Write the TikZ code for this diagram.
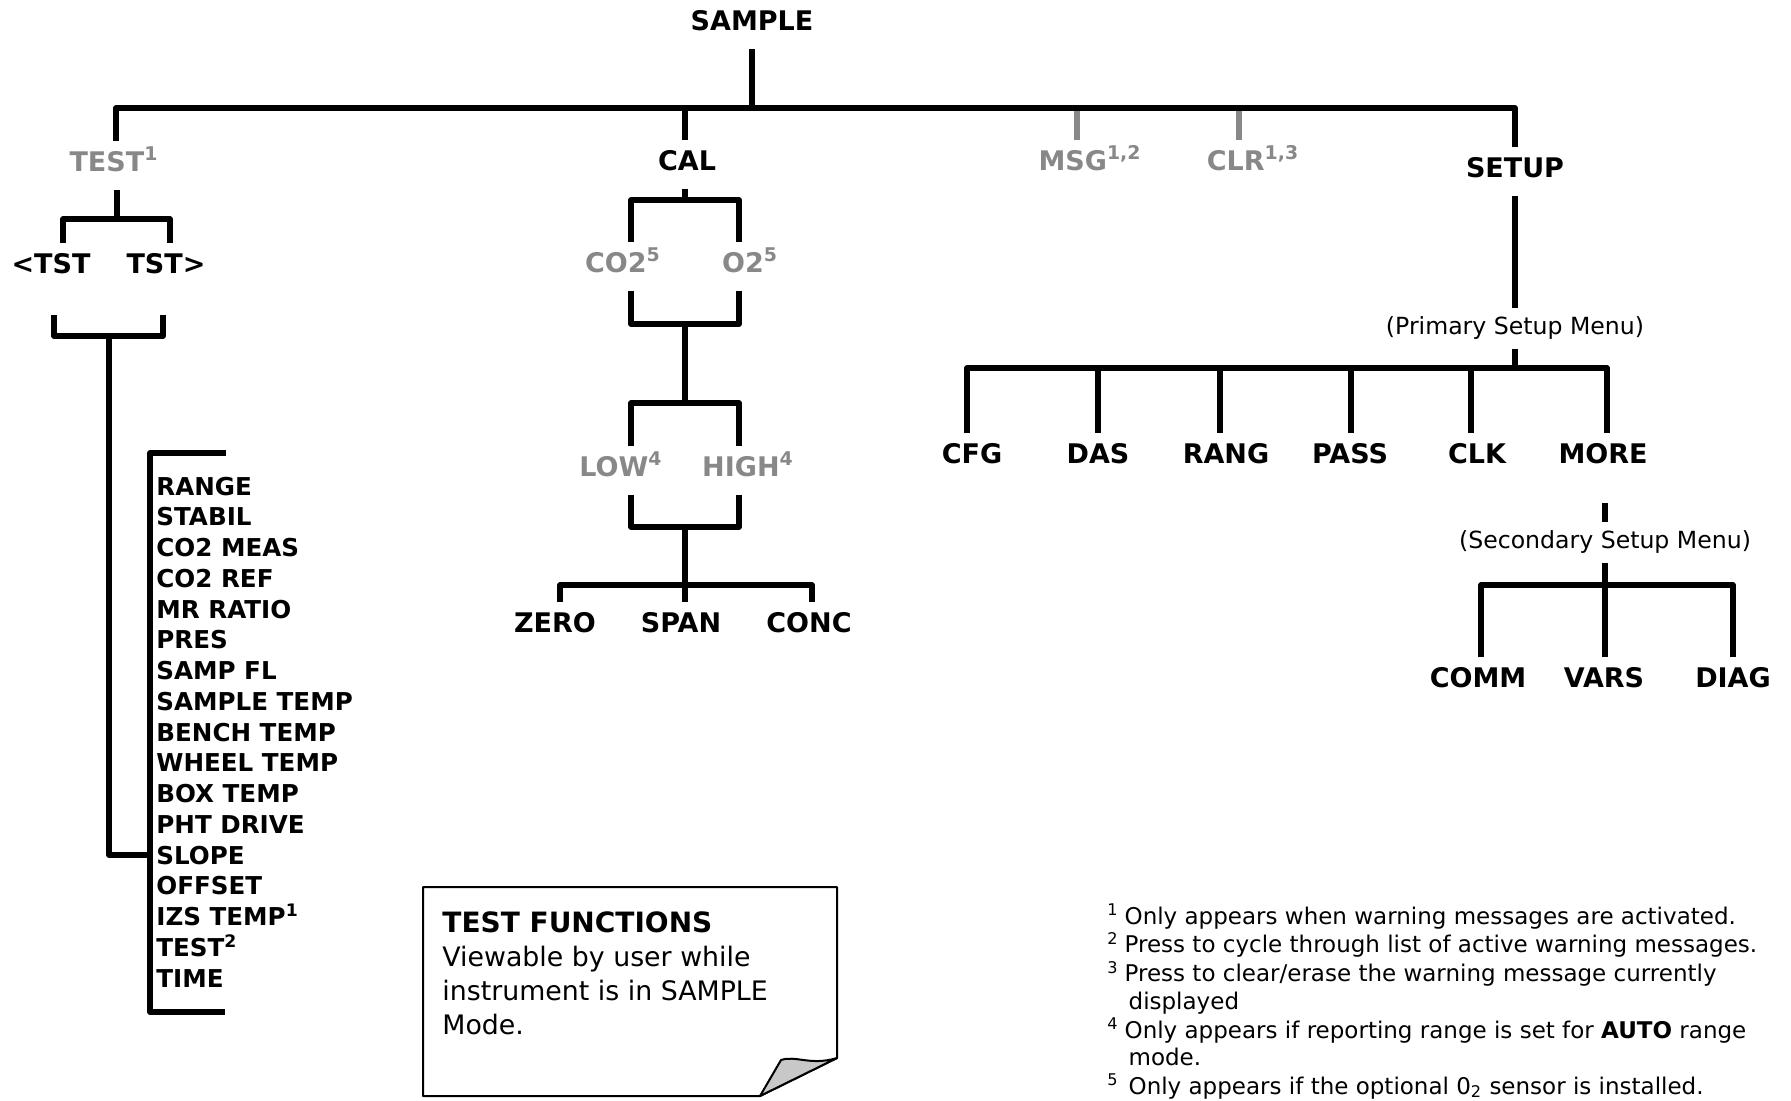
\documentclass[tikz,border=0pt]{standalone}
\usepackage{fontspec}
\setmainfont{DejaVu Sans}
\usepackage{tikz}
\usepackage{xcolor}

\definecolor{optgray}{RGB}{136,136,136}
\definecolor{curlgray}{RGB}{200,200,200}
\newcommand{\lblfont}{\fontsize{13.5}{16}\selectfont\bfseries}
\newcommand{\tfitemfont}{\fontsize{12.3}{15}\selectfont\bfseries}
\newcommand{\menufont}{\fontsize{11.8}{14}\selectfont}
\newcommand{\notesfont}{\fontsize{11.5}{13.75}\selectfont}

\begin{document}
\begin{tikzpicture}[
  x=0.5pt, y=-0.5pt,
  tree/.style={line width=2.6pt, line join=round},
  optline/.style={tree, draw=optgray},
  lbl/.style={font=\lblfont, inner sep=0pt, outer ysep=5pt, text height=9.8pt, text depth=4.5pt, anchor=base},
  opt/.style={lbl, text=optgray},
  menu/.style={font=\menufont, inner sep=0pt, outer ysep=5pt, text height=8pt, text depth=2.5pt, anchor=base},
  tfitem/.style={font=\tfitemfont, inner sep=0pt, anchor=base west},
  note/.style={line width=1pt, line join=round},
  notetext/.style={font=\fontsize{13.4}{17}\selectfont, inner sep=0pt, anchor=north west, align=left},
  foot/.style={font=\notesfont, inner sep=0pt, anchor=base west}
]
  \useasboundingbox (0,0) rectangle (1791,1100);

  % top level
  \node[lbl] (sample) at (752,30) {SAMPLE};
  \node[opt] (test) at (114,171) {TEST\textsuperscript{1}};
  \node[lbl] (cal) at (687,170) {CAL};
  \node[opt] (msg) at (1090,170) {MSG\textsuperscript{1,2}};
  \node[opt] (clr) at (1253,170) {CLR\textsuperscript{1,3}};
  \node[lbl] (setup) at (1515,177) {SETUP};
  \coordinate (j-root) at (752,108);
  \coordinate (j-test) at (116,108);
  \coordinate (j-cal) at (685,108);
  \coordinate (j-msg) at (1077,108);
  \coordinate (j-clr) at (1239,108);
  \coordinate (j-setup) at (1515,108);
  \draw[optline] (j-msg) -- (j-msg |- msg.north);
  \draw[optline] (j-clr) -- (j-clr |- clr.north);
  \draw[tree] (sample) -- (j-root);
  \draw[tree] (j-test |- test.north) -- (j-test) -- (j-setup) -- (setup.north);
  \draw[tree] (j-cal) -- (j-cal |- cal.north);

  % TEST branch
  \node[lbl] (tstl) at (51,273) {<TST};
  \node[lbl] (tstr) at (166,273) {TST>};
  \coordinate (t-fork) at (117,219);
  \coordinate (t-l) at (63,219);
  \coordinate (t-r) at (170,219);
  \draw[tree] (t-fork |- test.south) -- (t-fork);
  \draw[tree] (t-l |- tstl.north) -- (t-l) -- (t-r) -- (t-r |- tstr.north);
  \coordinate (tb-l) at (54,336);
  \coordinate (tb-r) at (163,336);
  \coordinate (tb-mid) at (109,336);
  \coordinate (t-slope) at (109,855);
  \coordinate (lb-top) at (150,453);
  \coordinate (lb-bot) at (150,1012);
  \draw[tree] (tb-l) ++(0,-21) -- (tb-l) -- (tb-r) -- ++(0,-21);
  \draw[tree] (tb-mid) -- (t-slope) -- (t-slope -| lb-top);
  \draw[tree] (lb-top) ++(76,0) -- (lb-top) -- (lb-bot) -- ++(75,0);
  \foreach \t [count=\i from 0] in {RANGE, STABIL, CO2 MEAS, CO2 REF, MR RATIO, PRES, SAMP FL,
      SAMPLE TEMP, BENCH TEMP, WHEEL TEMP, BOX TEMP, PHT DRIVE, SLOPE, OFFSET,
      {IZS TEMP\textsuperscript{1}}, {TEST\textsuperscript{2}}, TIME}
    \node[tfitem] (tf\i) at (156,495+30.75*\i) {\t};

  % CAL branch
  \node[opt] (co2) at (623,272) {CO2\textsuperscript{5}};
  \node[opt] (o2) at (750,272) {O2\textsuperscript{5}};
  \node[opt] (low) at (621,476) {LOW\textsuperscript{4}};
  \node[opt] (high) at (748,476) {HIGH\textsuperscript{4}};
  \node[lbl] (zero) at (555,632) {ZERO};
  \node[lbl] (span) at (681,632) {SPAN};
  \node[lbl] (conc) at (809,632) {CONC};
  \coordinate (c-a) at (685,200);
  \coordinate (c-al) at (631,200);
  \coordinate (c-ar) at (739,200);
  \coordinate (c-b) at (685,324);
  \coordinate (c-bl) at (631,324);
  \coordinate (c-br) at (739,324);
  \coordinate (c-c) at (685,403);
  \coordinate (c-cl) at (631,403);
  \coordinate (c-cr) at (739,403);
  \coordinate (c-d) at (685,527);
  \coordinate (c-dl) at (631,527);
  \coordinate (c-dr) at (739,527);
  \coordinate (c-e) at (685,585);
  \coordinate (c-el) at (560,585);
  \coordinate (c-er) at (812,585);
  \draw[tree] (c-a |- cal.south) -- (c-a);
  \draw[tree] (c-al |- co2.north) -- (c-al) -- (c-ar) -- (c-ar |- o2.north);
  \draw[tree] (c-bl |- co2.south) -- (c-bl) -- (c-br) -- (c-br |- o2.south);
  \draw[tree] (c-b) -- (c-c);
  \draw[tree] (c-cl |- low.north) -- (c-cl) -- (c-cr) -- (c-cr |- high.north);
  \draw[tree] (c-dl |- low.south) -- (c-dl) -- (c-dr) -- (c-dr |- high.south);
  \draw[tree] (c-d) -- (c-e);
  \draw[tree] (c-el |- zero.north) -- (c-el) -- (c-er) -- (c-er |- conc.north);
  \draw[tree] (c-e) -- (c-e |- span.north);

  % SETUP branch
  \node[menu] (primary) at (1515,334) {(Primary Setup Menu)};
  \coordinate (s-bar) at (1515,368);
  \draw[tree] (setup) -- (primary);
  \draw[tree] (primary) -- (s-bar);
  \foreach \n/\lx/\dx/\t in {cfg/972/967/CFG, das/1098/1098/DAS, rang/1226/1220/RANG,
      pass/1350/1351/PASS, clk/1477/1471/CLK, more/1603/1607/MORE} {
    \node[lbl] (\n) at (\lx,463) {\t};
    \coordinate (d-\n) at (\dx,368);
    \draw[tree] (d-\n) -- (d-\n |- \n.north);
  }
  \draw[tree] (d-cfg |- cfg.north) -- (d-cfg) -- (d-more) -- (d-more |- more.north);

  \coordinate (m-tick) at (1605,503);
  \node[menu] (secondary) at (1605,548) {(Secondary Setup Menu)};
  \coordinate (s2-bar) at (1605,585);
  \draw[tree] (m-tick) -- (secondary);
  \draw[tree] (secondary) -- (s2-bar);
  \node[lbl] (comm) at (1478,687) {COMM};
  \node[lbl] (vars) at (1604,687) {VARS};
  \node[lbl] (diag) at (1733,687) {DIAG};
  \coordinate (e-l) at (1481,585);
  \coordinate (e-r) at (1733,585);
  \draw[tree] (e-l |- comm.north) -- (e-l) -- (e-r) -- (e-r |- diag.north);
  \draw[tree] (s2-bar) -- (s2-bar |- vars.north);

  % note with folded corner
  \draw[note] (423,887) -- (837,887) -- (837,1058) -- (760,1096) -- (423,1096) -- cycle;
  \draw[note, fill=curlgray] (837,1058) .. controls (810,1066) and (796,1055) .. (781,1060)
    -- (760,1096) -- cycle;
  \node[notetext] (notetxt) at (442,911) {{\bfseries\fontsize{14}{17}\selectfont TEST FUNCTIONS}\\
    Viewable by user while\\instrument is in SAMPLE\\Mode.};

  % footnotes
  \node[foot] (notes) at (1107,924) {\begin{tabular}[t]{@{}r@{\hspace{3pt}}l@{}}
    \textsuperscript{1} & Only appears when warning messages are activated.\\
    \textsuperscript{2} & Press to cycle through list of active warning messages.\\
    \textsuperscript{3} & Press to clear/erase the warning message currently\\
     & \hspace{2pt}displayed\\
    \textsuperscript{4} & Only appears if reporting range is set for \textbf{AUTO} range\\
     & \hspace{2pt}mode.\\
    \textsuperscript{5} & \hspace{2pt}Only appears if the optional 0\textsubscript{2} sensor is installed.
  \end{tabular}};
\end{tikzpicture}
\end{document}
